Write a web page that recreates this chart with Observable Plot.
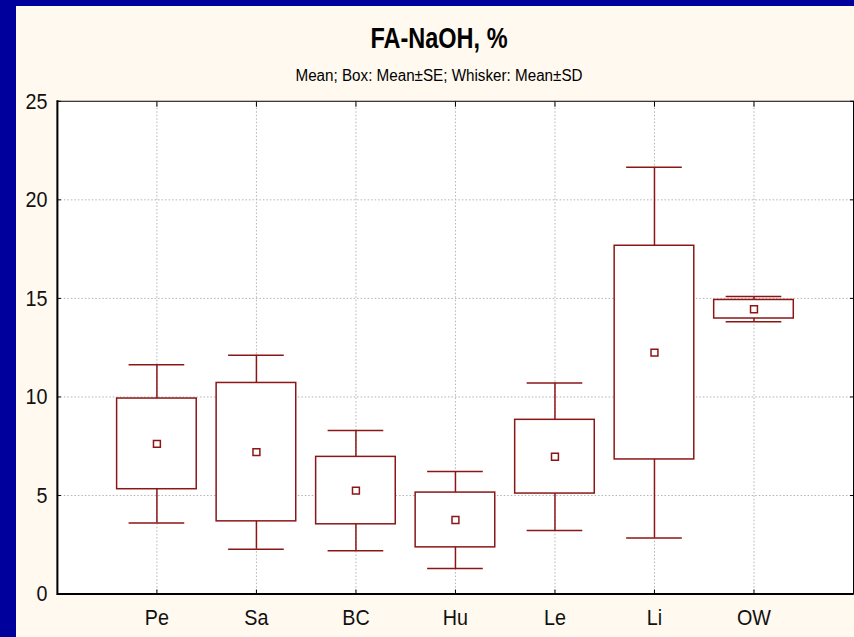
<!DOCTYPE html>
<html>
<head>
<meta charset="utf-8">
<script src="https://cdn.jsdelivr.net/npm/d3@7"></script>
<script src="https://cdn.jsdelivr.net/npm/@observablehq/plot@0.6"></script>
<style>
  html, body { margin: 0; padding: 0; }
  body { background: #00009c; width: 854px; height: 637px; overflow: hidden; position: relative; }
  #panel { position: absolute; left: 16px; top: 6px; width: 838px; height: 631px; overflow: hidden; background: #fff9ef; font-family: "Liberation Sans", Arial, sans-serif; color: #000; }
  .title { position: absolute; left: 0; width: 846px; top: 18px; text-align: center; font-size: 29px; line-height: 29px; font-weight: bold; transform: scaleX(0.81); white-space: nowrap; }
  .subtitle { position: absolute; left: 0; width: 846px; top: 61.5px; text-align: center; font-size: 16px; line-height: 16px; transform: scaleX(0.95); white-space: nowrap; }
  #chart { position: absolute; left: 0; top: 0; }
</style>
</head>
<body>
<div id="panel">
  <div class="title">FA-NaOH, %</div>
  <div class="subtitle">Mean; Box: Mean±SE; Whisker: Mean±SD</div>
  <div id="chart"></div>
</div>
<script>
// Groups and their summary statistics (FA-NaOH, %)
const groups = ["Pe", "Sa", "BC", "Hu", "Le", "Li", "OW"];
const means  = [7.62, 7.20, 5.25, 3.76, 6.97, 12.25, 14.45];
const se     = [2.30, 3.51, 1.71, 1.39, 1.87, 5.42, 0.47];
const sd     = [4.02, 4.92, 3.05, 2.46, 3.74, 9.40, 0.64];
const yTicks = [0, 5, 10, 15, 20, 25];

const rows = groups.map((g, i) => ({group: g, mean: means[i], se: se[i], sd: sd[i]}));

const red = "#8b1616";
const gridStyle = {stroke: "#b4b4b4", strokeOpacity: 1, strokeDasharray: "1.5,2", strokeWidth: 1};
const noText = () => "";

const chart = Plot.plot({
  width: 840,
  height: 631,
  marginTop: 95,
  marginLeft: 41,
  marginRight: 1,
  marginBottom: 42,
  style: {background: "transparent", fontFamily: "'Liberation Sans', Arial, sans-serif", color: "#000"},
  x: {type: "band", domain: groups, paddingInner: 0.2, paddingOuter: 0.6, round: false, label: null},
  y: {domain: [0, 25], ticks: yTicks, label: null},
  marks: [
    Plot.frame({fill: "white", stroke: null}),
    Plot.gridY({ticks: [5, 10, 15, 20], ...gridStyle}),
    Plot.gridX({...gridStyle}),
    // whiskers: mean ± SD
    Plot.ruleX(rows, {x: "group", y1: d => d.mean - d.sd, y2: d => d.mean + d.sd, stroke: red, strokeWidth: 1.5}),
    Plot.tickY(rows, {x: "group", y: d => d.mean - d.sd, insetLeft: 12, insetRight: 12, stroke: red, strokeWidth: 1.5}),
    Plot.tickY(rows, {x: "group", y: d => d.mean + d.sd, insetLeft: 12, insetRight: 12, stroke: red, strokeWidth: 1.5}),
    // boxes: mean ± SE
    Plot.barY(rows, {x: "group", y1: d => d.mean - d.se, y2: d => d.mean + d.se, fill: "white", stroke: red, strokeWidth: 1.5}),
    // mean markers
    Plot.dot(rows, {x: "group", y: "mean", symbol: "square", r: 3.9, fill: "white", stroke: red, strokeWidth: 1.5}),
    Plot.frame({stroke: "#000", strokeWidth: 1}),
    Plot.frame({anchor: "left", stroke: "#000", strokeWidth: 2}),
    Plot.ruleY([0], {stroke: "#000", strokeWidth: 2}),
    // inward tick marks on all four sides
    Plot.axisY({ticks: yTicks, anchor: "left", tickSize: -4, tickFormat: noText, label: null, stroke: "#000"}),
    Plot.axisY({ticks: yTicks, anchor: "right", tickSize: -4, tickFormat: noText, label: null, stroke: "#000"}),
    Plot.axisX({anchor: "top", tickSize: -5, tickFormat: noText, label: null, stroke: "#000"}),
    Plot.axisX({anchor: "bottom", tickSize: -4, tickFormat: noText, label: null, stroke: "#000"}),
    // tick labels
    Plot.axisY({ticks: yTicks, tickSize: 0, tickPadding: 10, fontSize: 23, label: null}),
    Plot.axisX({tickSize: 0, tickPadding: 15, fontSize: 23, label: null})
  ]
});

document.getElementById("chart").append(chart);

// condense the tick labels horizontally, keeping their anchors
chart.querySelectorAll("text").forEach(t => {
  const s = t.textContent;
  if (!s) return;
  const w = t.getComputedTextLength();
  if (w > 0) {
    t.setAttribute("textLength", (w * 0.86).toFixed(2));
    t.setAttribute("lengthAdjust", "spacingAndGlyphs");
  }
  t.setAttribute("fill", "#111");
});
</script>
</body>
</html>
